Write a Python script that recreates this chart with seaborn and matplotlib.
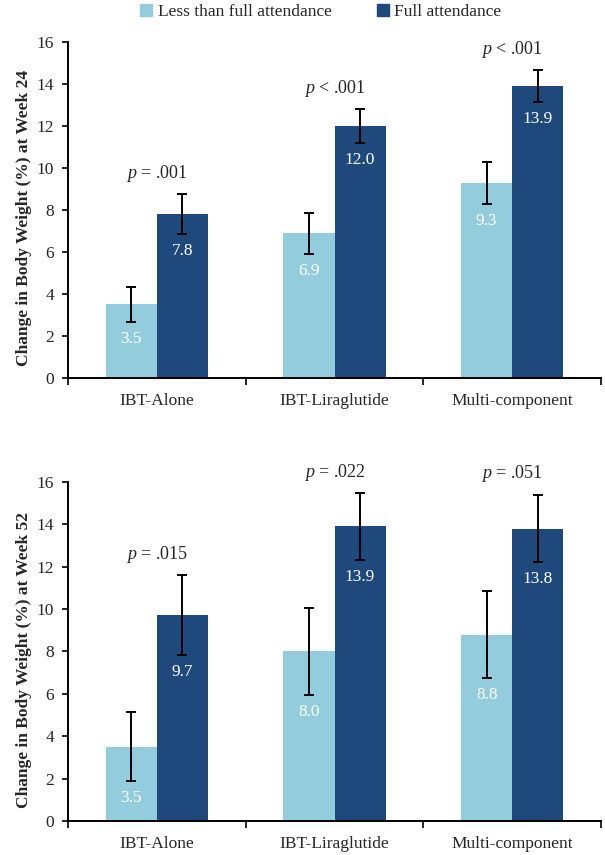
import pandas as pd
import matplotlib
matplotlib.use("Agg")
import matplotlib.pyplot as plt
from matplotlib.patches import Patch
from matplotlib.ticker import FixedLocator
import seaborn as sns

groups = ["IBT-Alone", "IBT-Liraglutide", "Multi-component"]
series = ["Less than full attendance", "Full attendance"]

wk24_less = [3.5, 6.9, 9.3]
wk24_full = [7.8, 12.0, 13.9]
wk24_less_err = [0.83, 0.98, 1.0]
wk24_full_err = [0.95, 0.8, 0.76]
wk24_p = ["= .001", "< .001", "< .001"]

wk52_less = [3.5, 8.0, 8.8]
wk52_full = [9.7, 13.9, 13.8]
wk52_less_err = [1.63, 2.04, 2.05]
wk52_full_err = [1.89, 1.57, 1.6]
wk52_p = ["= .015", "= .022", "= .051"]

colors = {"Less than full attendance": "#93CDDD", "Full attendance": "#1F497D"}

sns.set_style("white")
plt.rcParams["font.family"] = ["Liberation Serif", "DejaVu Serif"]
plt.rcParams["mathtext.fontset"] = "custom"
plt.rcParams["mathtext.it"] = "Liberation Serif:italic"
plt.rcParams["mathtext.rm"] = "Liberation Serif"


def draw_panel(ax, less, full, less_err, full_err, pvals, week):
    df = pd.DataFrame({
        "group": groups * 2,
        "series": [series[0]] * 3 + [series[1]] * 3,
        "value": less + full,
    })
    sns.barplot(data=df, x="group", y="value", hue="series", hue_order=series,
                palette=colors, saturation=1, width=0.575, errorbar=None,
                legend=False, linewidth=0, ax=ax)

    errs = [less_err, full_err]
    vals = [less, full]
    tops = [0, 0, 0]
    bar_sets = list(ax.containers)
    for k, cont in enumerate(bar_sets):
        for i, bar in enumerate(cont):
            xc = bar.get_x() + bar.get_width() / 2
            v, e = vals[k][i], errs[k][i]
            ax.errorbar(xc, v, yerr=e, color="black", lw=1.4, capsize=3.5,
                        capthick=1.4)
            ax.annotate(f"{v:.1f}", (xc, v - e), xytext=(0, -17),
                        textcoords="offset pixels", ha="center", va="center",
                        color="white", fontsize=12.5)
            tops[i] = max(tops[i], v + e)

    for i, p in enumerate(pvals):
        ax.annotate(r"$\mathit{p}$ " + p, (i, tops[i]), xytext=(0, 21),
                    textcoords="offset pixels", ha="center", va="center",
                    fontsize=13, annotation_clip=False)

    ax.set_ylim(0, 16)
    ax.set_yticks(range(0, 17, 2))
    ax.set_xlim(-0.5, 2.5)
    ax.xaxis.set_minor_locator(FixedLocator([-0.5, 0.5, 1.5, 2.5]))
    ax.tick_params(axis="x", which="major", length=0, pad=11, labelsize=12.5)
    ax.tick_params(axis="x", which="minor", length=5, width=1.4,
                   direction="out", bottom=True)
    ax.tick_params(axis="y", length=4, width=1.4, direction="out", left=True,
                   pad=6, labelsize=12.5)
    sns.despine(ax=ax)
    for s in ["left", "bottom"]:
        ax.spines[s].set_linewidth(1.4)
        ax.spines[s].set_color("black")
    ax.set_xlabel("")
    ax.set_ylabel(f"Change in Body Weight (%) at Week {week}",
                  fontweight="bold", fontsize=12.5)
    ax.yaxis.set_label_coords(-0.067, 0.475)


fig = plt.figure(figsize=(6.05, 8.55), dpi=100)
ax1 = fig.add_axes([0.1124, 0.5579, 0.881, 0.393])
ax2 = fig.add_axes([0.1124, 0.0398, 0.881, 0.3965])

draw_panel(ax1, wk24_less, wk24_full, wk24_less_err, wk24_full_err, wk24_p, 24)
draw_panel(ax2, wk52_less, wk52_full, wk52_less_err, wk52_full_err, wk52_p, 52)

handles = [Patch(color=colors[s], label=s) for s in series]
fig.legend(handles=handles, loc="center", bbox_to_anchor=(0.53, 0.986),
           ncol=2, frameon=False, fontsize=12.5, handlelength=0.7,
           handleheight=0.7, handletextpad=0.3, columnspacing=2.6)

fig.savefig("out.png", dpi=100)
